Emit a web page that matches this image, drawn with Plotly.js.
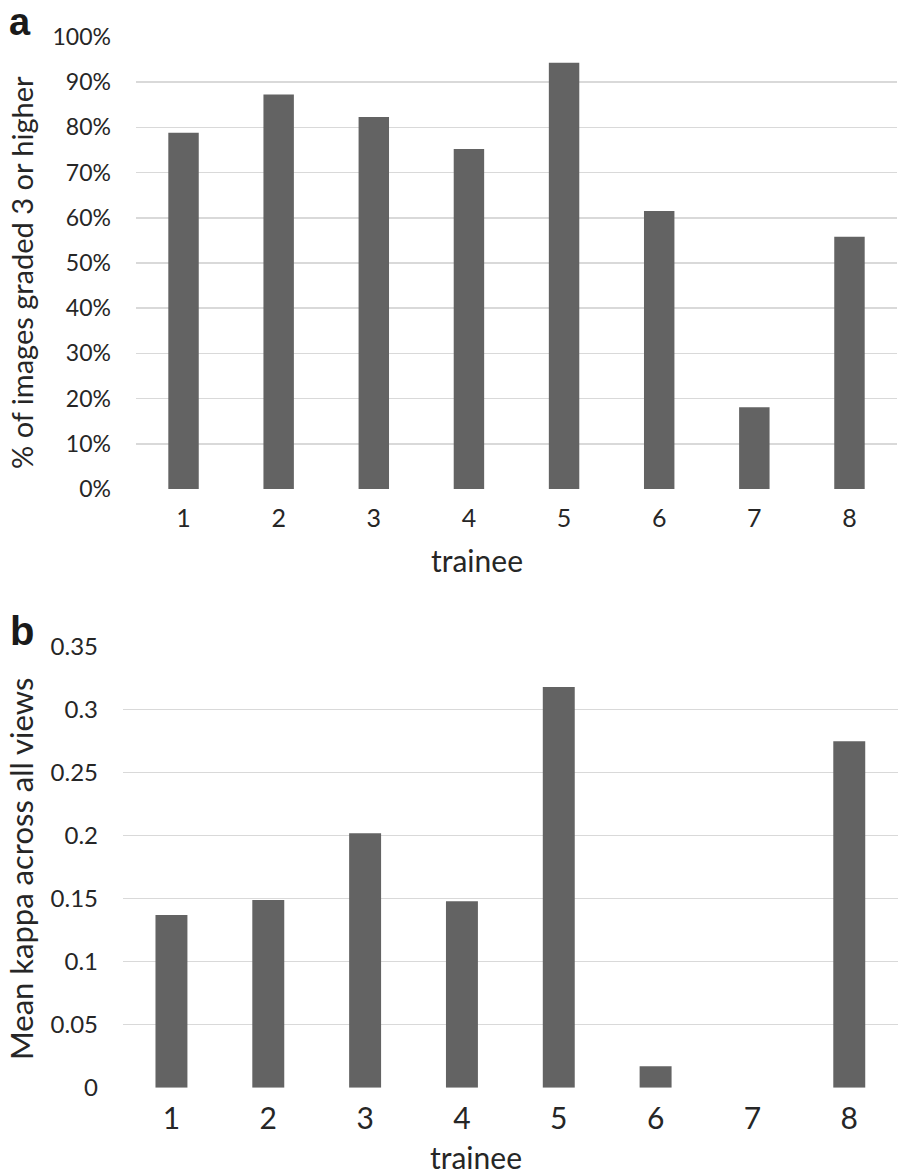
<!DOCTYPE html>
<html>
<head>
<meta charset="utf-8">
<script src="https://cdn.plot.ly/plotly-3.0.1.min.js"></script>
<style>html,body{margin:0;padding:0;background:#fff;}#chart{width:904px;height:1176px;}</style>
</head>
<body>
<div id="chart"></div>
<script>
const trainees = ['1','2','3','4','5','6','7','8'];
const pctGraded3Plus = [0.788, 0.873, 0.823, 0.752, 0.943, 0.615, 0.181, 0.558];
const meanKappa = [0.137, 0.149, 0.202, 0.148, 0.318, 0.017, 0.0, 0.275];
const pctTicks = [0,0.1,0.2,0.3,0.4,0.5,0.6,0.7,0.8,0.9,1.0];
const pctTickText = ['0%','10%','20%','30%','40%','50%','60%','70%','80%','90%','100%'];
const kappaTicks = [0,0.05,0.1,0.15,0.2,0.25,0.3,0.35];
const kappaTickText = ['0','0.05','0.1','0.15','0.2','0.25','0.3','0.35'];
const xTitle = 'trainee';
const yTitleTop = '% of images graded 3 or higher';
const yTitleBottom = 'Mean kappa across all views';

const FONT = 'Lato, "Open Sans", sans-serif';
const TXT = '#262626';
const BAR = '#636363';
const GRID = '#d9d9d9';
const H = 1176, W = 904;

const data = [
  {type:'bar', x:trainees, y:pctGraded3Plus, xaxis:'x', yaxis:'y', marker:{color:BAR}, width:0.32, hoverinfo:'x+y'},
  {type:'bar', x:trainees, y:meanKappa, xaxis:'x2', yaxis:'y2', marker:{color:BAR}, width:0.33, hoverinfo:'x+y'}
];

const layout = {
  width:W, height:H,
  margin:{l:0,r:0,t:0,b:0},
  paper_bgcolor:'#fff', plot_bgcolor:'#fff',
  showlegend:false,
  font:{family:FONT, color:TXT},
  xaxis:{domain:[0.1504,0.9923], anchor:'y', type:'category', showgrid:false, zeroline:false, showline:false,
    tickfont:{size:25, color:TXT}, ticks:'', ticklabelstandoff:12},
  yaxis:{domain:[0.5842,0.9685], anchor:'x', range:[0,1], tickvals:pctTicks, ticktext:pctTickText,
    showgrid:true, gridcolor:GRID, gridwidth:1.5, zeroline:false, showline:false, ticks:'',
    tickfont:{size:23, color:TXT}, ticklabelstandoff:24},
  xaxis2:{domain:[0.1361,0.9930], anchor:'y2', type:'category', showgrid:false, zeroline:false, showline:false,
    tickfont:{size:30, color:TXT}, ticks:'', ticklabelstandoff:10},
  yaxis2:{domain:[0.0751,0.4501], anchor:'x2', range:[0,0.35], tickvals:kappaTicks, ticktext:kappaTickText,
    showgrid:true, gridcolor:GRID, gridwidth:1.5, zeroline:false, showline:false, ticks:'',
    tickfont:{size:24, color:TXT}, ticklabelstandoff:24},
  annotations:[
    {text:xTitle, xref:'paper', yref:'paper', x:477/W, y:1-560/H, xanchor:'center', yanchor:'middle', showarrow:false,
      font:{size:30, color:TXT}},
    {text:xTitle, xref:'paper', yref:'paper', x:476/W, y:0, xanchor:'center', yanchor:'bottom', showarrow:false, borderpad:0,
      font:{size:30, color:TXT}},
    {text:yTitleTop, xref:'paper', yref:'paper', x:21/W, y:1-273/H, xanchor:'center', yanchor:'middle', textangle:-90, showarrow:false,
      font:{size:29, color:TXT}},
    {text:yTitleBottom, xref:'paper', yref:'paper', x:21/W, y:1-869/H, xanchor:'center', yanchor:'middle', textangle:-90, showarrow:false,
      font:{size:31, color:TXT}},
    {text:'<b>a</b>', xref:'paper', yref:'paper', x:8/W, y:1, xanchor:'left', yanchor:'top', showarrow:false, borderpad:0,
      font:{family:'Liberation Sans, Arial, sans-serif', size:38, color:'#1a1a1a'}},
    {text:'<b>b</b>', xref:'paper', yref:'paper', x:8/W, y:1-631/H, xanchor:'left', yanchor:'middle', showarrow:false,
      font:{family:'Liberation Sans, Arial, sans-serif', size:40, color:'#1a1a1a'}}
  ]
};

Plotly.newPlot('chart', data, layout, {displayModeBar:false, staticPlot:true});
</script>
</body>
</html>
